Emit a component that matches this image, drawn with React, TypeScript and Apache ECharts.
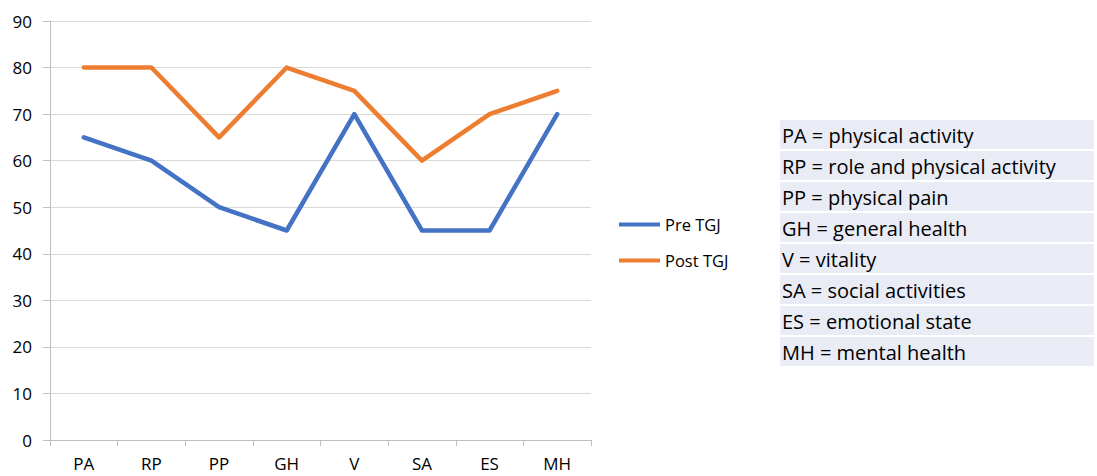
import React, { useEffect, useRef } from "react";
import * as echarts from "echarts";

const categories = ["PA", "RP", "PP", "GH", "V", "SA", "ES", "MH"];
const preValues = [65, 60, 50, 45, 70, 45, 45, 70];
const postValues = [80, 80, 65, 80, 75, 60, 70, 75];
const seriesNames = ["Pre TGJ", "Post TGJ"];
const glossary = [
  "PA = physical activity",
  "RP = role and physical activity",
  "PP = physical pain",
  "GH = general health",
  "V = vitality",
  "SA = social activities",
  "ES = emotional state",
  "MH = mental health",
];

const FONT = "'Open Sans', Lato, sans-serif";

export default function App() {
  const ref = useRef<HTMLDivElement>(null);
  useEffect(() => {
    if (!ref.current) return;
    const chart = echarts.init(ref.current, undefined, { renderer: "svg" });
    const rowTop = 120;
    const rowH = 31;
    const tableLeft = 780;
    const tableW = 314;
    const graphics: any[] = [];
    glossary.forEach((t, i) => {
      graphics.push({
        type: "rect",
        shape: { x: tableLeft, y: rowTop + i * rowH, width: tableW, height: rowH - 2 },
        style: { fill: "#e9ebf5" },
        silent: true,
      });
      graphics.push({
        type: "text",
        x: tableLeft + 2,
        y: rowTop + i * rowH + (rowH - 2) / 2 + 1,
        style: {
          text: t,
          fill: "#000000",
          font: `20px ${FONT}`,
          textVerticalAlign: "middle",
          verticalAlign: "middle",
        },
        silent: true,
      });
    });
    chart.setOption({
      animation: false,
      textStyle: { fontFamily: FONT },
      grid: { left: 50, right: 506, top: 21, bottom: 36, containLabel: false },
      legend: {
        orient: "vertical",
        left: 614,
        top: 211,
        itemWidth: 41,
        itemHeight: 4,
        itemGap: 19,
        icon: "rect",
        textStyle: { fontSize: 16.5, color: "#000", fontFamily: FONT },
        data: seriesNames,
      },
      xAxis: {
        type: "category",
        data: categories,
        boundaryGap: true,
        axisLine: { show: true, lineStyle: { color: "#bfbfbf", width: 1 } },
        axisTick: { show: true, length: 6, alignWithLabel: false, lineStyle: { color: "#bfbfbf" } },
        axisLabel: { color: "#000", fontSize: 17, margin: 15, fontFamily: FONT },
        splitLine: { show: false },
      },
      yAxis: {
        type: "value",
        min: 0,
        max: 90,
        interval: 10,
        axisLine: { show: true, lineStyle: { color: "#bfbfbf", width: 1 } },
        axisTick: { show: true, length: 7, lineStyle: { color: "#bfbfbf" } },
        axisLabel: { color: "#000", fontSize: 17, margin: 18, fontFamily: FONT },
        splitLine: { show: true, lineStyle: { color: "#d9d9d9", width: 1 } },
      },
      series: [
        {
          name: seriesNames[0],
          type: "line",
          data: preValues,
          showSymbol: false,
          symbol: "none",
          lineStyle: { color: "#4472c4", width: 4.5, cap: "round", join: "round" },
          itemStyle: { color: "#4472c4" },
        },
        {
          name: seriesNames[1],
          type: "line",
          data: postValues,
          showSymbol: false,
          symbol: "none",
          lineStyle: { color: "#ed7d31", width: 4.5, cap: "round", join: "round" },
          itemStyle: { color: "#ed7d31" },
        },
      ],
      graphic: graphics,
    });
    return () => chart.dispose();
  }, []);
  return (
    <div
      ref={ref}
      style={{ position: "fixed", left: 0, top: 0, width: 1097, height: 476, background: "#fff" }}
    />
  );
}
